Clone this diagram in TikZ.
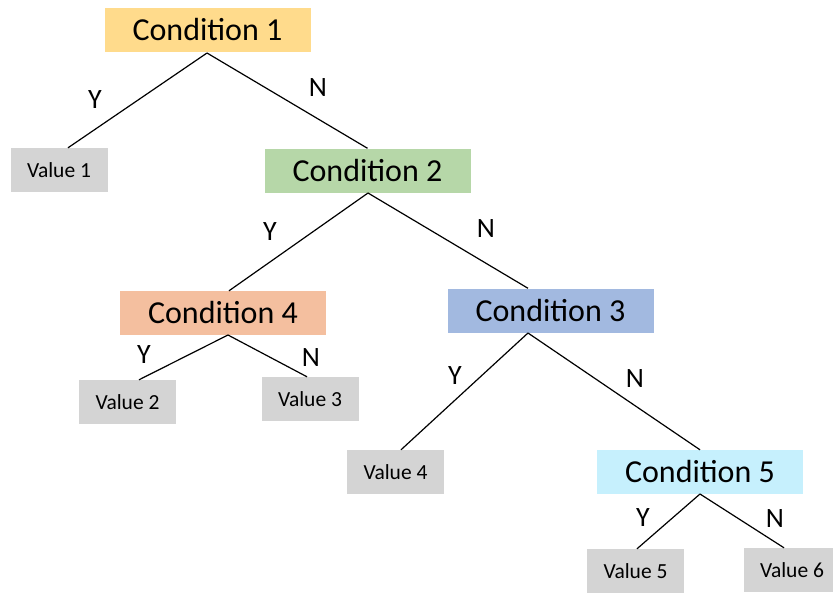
\documentclass[tikz,border=0pt]{standalone}
\usepackage{fontspec}
\setmainfont{Carlito}
\definecolor{cyel}{HTML}{FFDB8C}
\definecolor{cgrn}{HTML}{B6D7A8}
\definecolor{csal}{HTML}{F4BF9F}
\definecolor{cblu}{HTML}{A2B9E0}
\definecolor{ccya}{HTML}{C6F0FD}
\definecolor{cgry}{HTML}{D4D4D4}
\begin{document}
\begin{tikzpicture}[x=1pt,y=-1pt,
  cond/.style={rectangle,inner sep=0pt,minimum width=206pt,minimum height=44pt,font=\fontsize{32}{37}\selectfont},
  val/.style={rectangle,fill=cgry,inner sep=0pt,minimum width=97pt,minimum height=44pt,font=\fontsize{21.5}{25}\selectfont},
  yn/.style={font=\fontsize{28}{33}\selectfont,inner sep=0pt},
  edge/.style={draw=black,line width=1.2pt}]
\useasboundingbox (0,0) rectangle (833,594);
\clip (0,0) rectangle (833,594);
\node[cond,fill=cyel] (c1) at (207.5,30) {Condition 1};
\node[val] (v1) at (59,170) {Value 1};
\node[cond,fill=cgrn] (c2) at (367.5,170.5) {Condition 2};
\node[cond,fill=csal] (c4) at (223,313) {Condition 4};
\node[cond,fill=cblu] (c3) at (550.5,310.5) {Condition 3};
\node[val] (v2) at (127.5,402) {Value 2};
\node[val] (v3) at (310,399) {Value 3};
\node[val] (v4) at (395.5,472) {Value 4};
\node[cond,fill=ccya] (c5) at (700,472) {Condition 5};
\node[val] (v5) at (635.5,571) {Value 5};
\node[val] (v6) at (792,570) {Value 6};
\coordinate (c1b) at (207,53);
\coordinate (c2b) at (368,193);
\coordinate (c4b) at (228,335);
\coordinate (c3b) at (528,333);
\coordinate (c5b) at (700,494);
\draw[edge] (c1b) -- (v1.north -| 68,0);
\draw[edge] (c1b) -- (c2.north);
\draw[edge] (c2b) -- (c4.north -| 229,0);
\draw[edge] (c2b) -- (c3.north -| 528,0);
\draw[edge] (c4b) -- (v2.north -| 139,0);
\draw[edge] (c4b) -- (v3.north -| 307,0);
\draw[edge] (c3b) -- (v4.north -| 401,0);
\draw[edge] (c3b) -- (c5.north);
\draw[edge] (c5b) -- (v5.north -| 637,0);
\draw[edge] (c5b) -- (v6.north -| 784,0);
\node[yn] (y1) at (95,100) {Y};
\node[yn] (n1) at (318,88) {N};
\node[yn] (y2) at (270,232) {Y};
\node[yn] (n2) at (486,229) {N};
\node[yn] (y4) at (144,355) {Y};
\node[yn] (n4) at (311,358) {N};
\node[yn] (y3) at (455,376) {Y};
\node[yn] (n3) at (635,379) {N};
\node[yn] (y5) at (643,518) {Y};
\node[yn] (n5) at (775,519) {N};
\end{tikzpicture}
\end{document}
